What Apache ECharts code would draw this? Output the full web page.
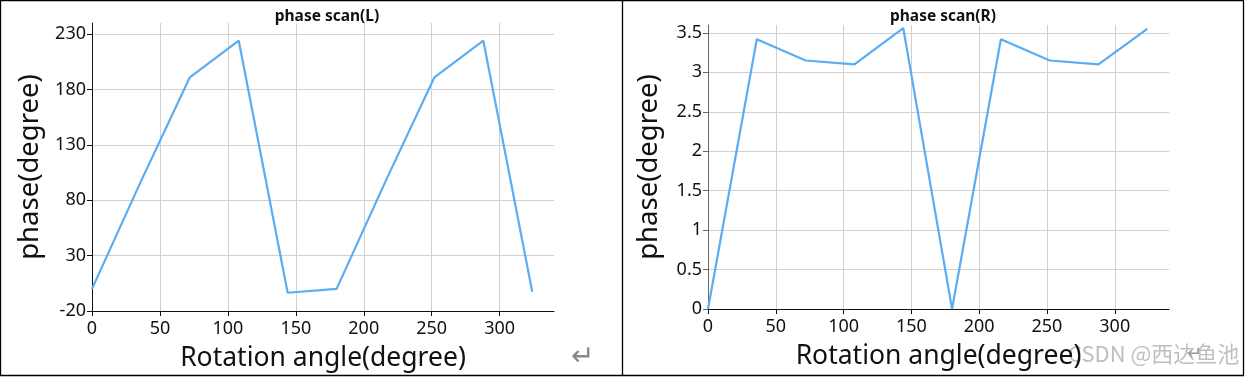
<!DOCTYPE html>
<html>
<head>
<meta charset="utf-8">
<script src="https://cdn.jsdelivr.net/npm/echarts@6/dist/echarts.min.js"></script>
<style>
html,body{margin:0;padding:0;background:#fff;}
#c{width:1247px;height:380px;}
</style>
</head>
<body>
<div id="c"></div>
<script>
const angles = [0, 36, 72, 108, 144, 180, 216, 252, 288, 324];
const phaseL = [0, 97, 191, 224, -3.5, 0, 97, 191, 224, -2.6];
const phaseR = [0, 3.42, 3.15, 3.10, 3.56, 0, 3.42, 3.15, 3.10, 3.55];
const titleL = 'phase scan(L)';
const titleR = 'phase scan(R)';
const xName = 'Rotation angle(degree)';
const yName = 'phase(degree)';
const watermark = 'CSDN @西达鱼池';

const FONT = '"Noto Sans", "Open Sans", sans-serif';
const lineColor = '#5aacf3';

function pairs(xs, ys){ return xs.map((x,i)=>[x, ys[i]]); }

function xAxis(gi){
  return {
    type:'value', gridIndex:gi, min:0, max:340, interval:50,
    name:xName, nameLocation:'middle', nameGap:34,
    nameTextStyle:{fontFamily:FONT, fontSize:26.5, color:'#111'},
    axisLine:{show:true, onZero:false, lineStyle:{color:'#111', width:1}},
    axisTick:{show:true, length:5, lineStyle:{color:'#111'}},
    axisLabel:{fontFamily:FONT, fontSize:18, color:'#111', margin:9, showMaxLabel:false},
    splitLine:{show:true, showMaxLine:false, lineStyle:{color:'#d0d0d0', width:1}}
  };
}
function yAxis(gi, min, max, interval, axisColor, gap){
  return {
    type:'value', gridIndex:gi, min:min, max:max, interval:interval,
    name:yName, nameLocation:'middle', nameGap:gap, nameRotate:90,
    nameTextStyle:{fontFamily:FONT, fontSize:27.5, color:'#111'},
    axisLine:{show:true, onZero:false, lineStyle:{color:axisColor, width:1}},
    axisTick:{show:true, length:5, lineStyle:{color:axisColor}},
    axisLabel:{fontFamily:FONT, fontSize:18, color:'#111', margin:6, showMaxLabel:false},
    splitLine:{show:true, showMaxLine:false, lineStyle:{color:'#d0d0d0', width:1}}
  };
}

const chart = echarts.init(document.getElementById('c'), null, {renderer:'canvas'});
chart.setOption({
  animation:false,
  backgroundColor:'#fff',
  title:[
    {text:titleL, left:322, top:4, textAlign:'center', textStyle:{fontFamily:FONT, fontSize:15.5, fontWeight:'bold', color:'#111'}},
    {text:titleR, left:938, top:4, textAlign:'center', textStyle:{fontFamily:FONT, fontSize:15.5, fontWeight:'bold', color:'#111'}}
  ],
  grid:[
    {left:92, top:23, width:462, height:288},
    {left:708, top:25, width:461, height:284}
  ],
  xAxis:[xAxis(0), xAxis(1)],
  yAxis:[yAxis(0, -20, 240, 50, '#111', 48), yAxis(1, 0, 3.6, 0.5, '#666', 45)],
  series:[
    {type:'line', xAxisIndex:0, yAxisIndex:0, data:pairs(angles, phaseL), showSymbol:false, lineStyle:{color:lineColor, width:2.2}, itemStyle:{color:lineColor}},
    {type:'line', xAxisIndex:1, yAxisIndex:1, data:pairs(angles, phaseR), showSymbol:false, lineStyle:{color:lineColor, width:2.2}, itemStyle:{color:lineColor}}
  ],
  graphic:[
    {type:'rect', shape:{x:0.5, y:0.5, width:1243, height:375}, style:{fill:null, stroke:'#000', lineWidth:1.3}, silent:true},
    {type:'line', shape:{x1:622.5, y1:0, x2:622.5, y2:376}, style:{stroke:'#000', lineWidth:1.3}, silent:true},
    {type:'text', left:571, top:344, style:{text:'↵', font:'28px "DejaVu Sans", sans-serif', fill:'#888'}, silent:true},
    {type:'text', left:1187, top:345, style:{text:'↵', font:'18px "DejaVu Sans", sans-serif', fill:'#999'}, silent:true},
    {type:'text', left:1068, top:343, style:{text:watermark, font:'22px "Noto Sans CJK SC", "Noto Sans", sans-serif', fill:'rgba(170,170,170,0.75)'}, silent:true}
  ]
});
</script>
</body>
</html>
